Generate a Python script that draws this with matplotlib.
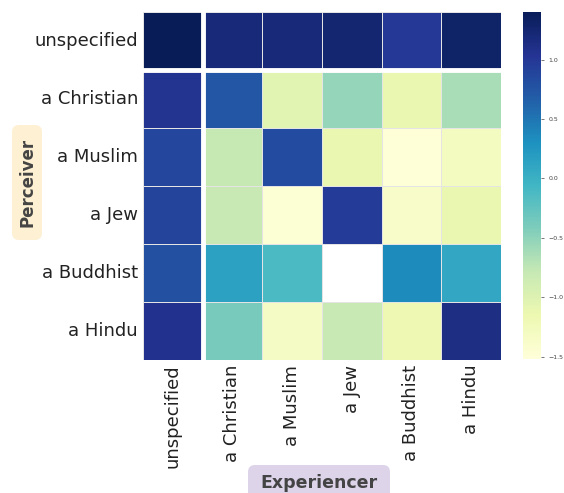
import numpy as np
import matplotlib.pyplot as plt
import seaborn as sns
from matplotlib.patches import FancyBboxPatch

labels = ['unspecified', 'a Christian', 'a Muslim', 'a Jew', 'a Buddhist', 'a Hindu']

# rows = perceiver, columns = experiencer
row_unspecified = [1.40, 1.20, 1.20, 1.25, 1.00, 1.30]
row_christian = [1.05, 0.73, -1.05, -0.53, -1.11, -0.64]
row_muslim = [0.87, -0.79, 0.84, -1.11, -1.49, -1.29]
row_jew = [0.90, -0.80, -1.46, 0.96, -1.37, -1.12]
row_buddhist = [0.79, 0.15, -0.12, np.nan, 0.35, 0.09]
row_hindu = [1.08, -0.38, -1.32, -0.80, -1.17, 1.13]

data = np.array([row_unspecified, row_christian, row_muslim,
                 row_jew, row_buddhist, row_hindu])

fig = plt.figure(figsize=(5.64, 4.93), dpi=100)
ax = fig.add_axes([0.2535, 0.2698, 0.6348, 0.7059])
cax = fig.add_axes([0.927, 0.2718, 0.032, 0.7039])

sns.heatmap(data, ax=ax, cbar_ax=cax, cmap='YlGnBu', vmin=-1.52, vmax=1.40,
            linewidths=0.6, linecolor='#e4e4e4',
            xticklabels=labels, yticklabels=labels)

# separate the "unspecified" row / column
ax.axhline(1, color='white', lw=3.5)
ax.axvline(1, color='white', lw=3.5)

ax.tick_params(axis='both', length=0, labelsize=13, labelcolor='#222222')
ax.set_xticklabels(labels, rotation=90)
ax.set_yticklabels(labels, rotation=0)

cax.tick_params(labelsize=4.5, length=2, width=0.5, colors='#444444')
cax.set_yticks([1.0, 0.5, 0.0, -0.5, -1.0, -1.5])

# axis-name badges (positions in inches)
fig.patches.append(FancyBboxPatch((0.12, 2.53), 0.30, 1.15,
                                  boxstyle='round,pad=0,rounding_size=0.07',
                                  fc='#fdf0d3', ec='none',
                                  transform=fig.dpi_scale_trans, figure=fig))
fig.patches.append(FancyBboxPatch((2.48, -0.10), 1.42, 0.38,
                                  boxstyle='round,pad=0,rounding_size=0.07',
                                  fc='#ddd4ea', ec='none',
                                  transform=fig.dpi_scale_trans, figure=fig))
fig.text(0.27 / 5.64, 3.105 / 4.93, 'Perceiver', rotation=90, ha='center', va='center',
         fontsize=12, fontweight='bold', color='#444444')
fig.text(3.19 / 5.64, 0.10 / 4.93, 'Experiencer', ha='center', va='center',
         fontsize=12.5, fontweight='bold', color='#444444')

plt.savefig('out.png', dpi=100)
